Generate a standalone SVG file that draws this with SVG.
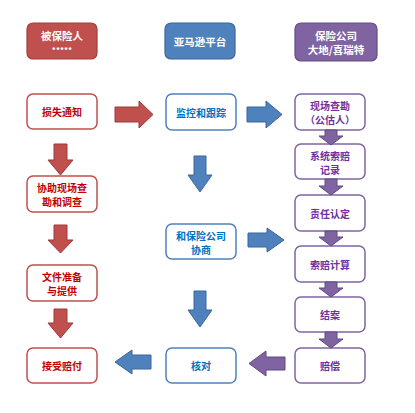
<svg xmlns="http://www.w3.org/2000/svg" width="415" height="413" viewBox="0 0 415 413">
<style>
text{font-family:"Noto Sans CJK SC","Noto Sans",sans-serif;font-size:10px;font-weight:bold;text-anchor:middle;dominant-baseline:central}
.hr{fill:#C0504D;stroke:#A33C39;stroke-width:1.2}
.hb{fill:#4F81BD;stroke:#3A6699;stroke-width:1.2}
.hp{fill:#8064A2;stroke:#644C82;stroke-width:1.2}
.ht{fill:#fff;font-size:10.5px}
.nr{fill:#fff;stroke:#C0504D;stroke-width:1.5}
.nb{fill:#fff;stroke:#4F81BD;stroke-width:1.5}
.np{fill:#fff;stroke:#8064A2;stroke-width:1.5}
.tr{fill:#C00000}
.tb{fill:#0070C0}
.tp{fill:#7030A0}
.ar{fill:#C0504D;stroke:#9E3B38;stroke-width:1}
.ab{fill:#4F81BD;stroke:#3A6699;stroke-width:1}
.ap{fill:#8064A2;stroke:#5F4A7E;stroke-width:1}
</style>
<rect width="415" height="413" fill="#fff"/>
<g id="h-insured"><rect class="hr" x="27" y="23" width="70" height="36" rx="6"/><text class="ht" x="62" y="35">被保险人</text><text class="ht" x="62" y="49" style="font-size:8px">*****</text></g>
<g id="h-amazon"><rect class="hb" x="165" y="23" width="70" height="36" rx="6"/><text class="ht" x="200" y="41">亚马逊平台</text></g>
<g id="h-insurer"><rect class="hp" x="295" y="23" width="82" height="38" rx="6"/><text class="ht" x="336" y="35">保险公司</text><text class="ht" x="336" y="49">大地/喜瑞特</text></g>

<g id="n-loss"><rect class="nr" x="27" y="94" width="70" height="35" rx="6"/><text class="tr" x="62" y="111.5">损失通知</text></g>
<g id="n-assist"><rect class="nr" x="27" y="176" width="70" height="36" rx="6"/><text class="tr" x="62" y="187">协助现场查</text><text class="tr" x="62" y="201">勘和调查</text></g>
<g id="n-docs"><rect class="nr" x="27" y="265" width="70" height="36" rx="6"/><text class="tr" x="62" y="276">文件准备</text><text class="tr" x="62" y="290">与提供</text></g>
<g id="n-accept"><rect class="nr" x="27" y="348" width="70" height="35" rx="6"/><text class="tr" x="62" y="365.5">接受赔付</text></g>

<g id="n-monitor"><rect class="nb" x="166" y="94" width="70" height="36" rx="6"/><text class="tb" x="201" y="112">监控和跟踪</text></g>
<g id="n-negotiate"><rect class="nb" x="166" y="224" width="70" height="35" rx="6"/><text class="tb" x="201" y="235">和保险公司</text><text class="tb" x="201" y="249">协商</text></g>
<g id="n-check"><rect class="nb" x="166" y="348" width="70" height="35" rx="6"/><text class="tb" x="201" y="365.5">核对</text></g>

<g id="n-survey"><rect class="np" x="295" y="94" width="70" height="36" rx="6"/><text class="tp" x="330" y="105">现场查勘</text><text class="tp" x="330" y="119">（公估人）</text></g>
<g id="n-record"><rect class="np" x="295" y="144" width="70" height="35" rx="6"/><text class="tp" x="330" y="155">系统索赔</text><text class="tp" x="330" y="169">记录</text></g>
<g id="n-liability"><rect class="np" x="295" y="195" width="70" height="36" rx="6"/><text class="tp" x="330" y="213">责任认定</text></g>
<g id="n-calc"><rect class="np" x="295" y="246" width="70" height="36" rx="6"/><text class="tp" x="330" y="264">索赔计算</text></g>
<g id="n-close"><rect class="np" x="295" y="297" width="70" height="35" rx="6"/><text class="tp" x="330" y="314.5">结案</text></g>
<g id="n-pay"><rect class="np" x="295" y="348" width="70" height="35" rx="6"/><text class="tp" x="330" y="365.5">赔偿</text></g>

<g id="connectors">
<path class="ar" d="M115,107 H139 V101 L153,114.5 L139,128 V122 H115 Z"/>
<path class="ab" d="M247,107 H266 V101 L282,114.5 L266,128 V122 H247 Z"/>
<path class="ar" d="M54,144 H67 V160 H73 L60.5,175 L48,160 H54 Z"/>
<path class="ar" d="M54,225 H67 V240 H73 L60.5,253 L48,240 H54 Z"/>
<path class="ar" d="M54,309 H67 V323 H73 L60.5,338 L48,323 H54 Z"/>
<path class="ab" d="M194,156 H206 V175 H212 L200,192 L188,175 H194 Z"/>
<path class="ab" d="M194,291 H206 V310 H212 L200,327 L188,310 H194 Z"/>
<path class="ab" d="M248,233 H267 V228 L284,240 L267,252 V247 H248 Z"/>
<path class="ab" d="M151,355 H132 V350 L115,362 L132,374 V369 H151 Z"/>
<path class="ap" d="M285,357 H266 V351 L249,363.5 L266,376 V370 H285 Z"/>
<path class="ap" d="M325,130 H337 V136 H343 L331,145 L319,136 H325 Z"/>
<path class="ap" d="M325,179 H337 V186 H343 L331,195 L319,186 H325 Z"/>
<path class="ap" d="M325,231 H337 V237 H343 L331,246 L319,237 H325 Z"/>
<path class="ap" d="M325,282 H337 V288 H343 L331,297 L319,288 H325 Z"/>
<path class="ap" d="M325,332 H337 V339 H343 L331,348 L319,339 H325 Z"/>
</g>
</svg>
